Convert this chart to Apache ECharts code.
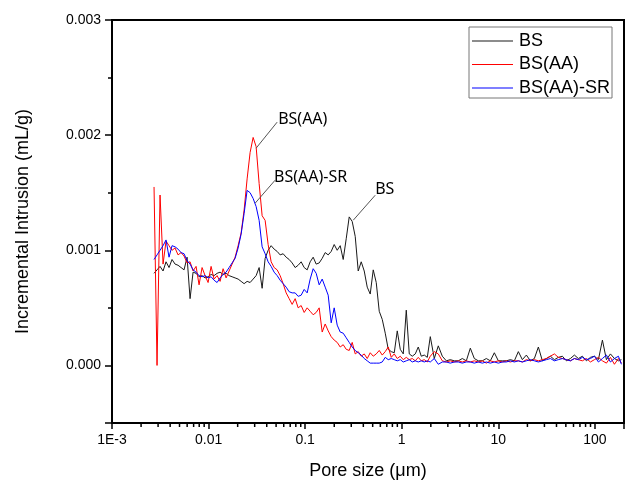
<!DOCTYPE html>
<html><head><meta charset="utf-8">
<script src="https://cdn.jsdelivr.net/npm/echarts@6/dist/echarts.min.js"></script>
<style>html,body{margin:0;padding:0;background:#fff}#c{width:628px;height:485px}</style>
</head><body><div id="c"></div>
<script>
// Pore size (µm)
const poreSize = [
0.002724,0.002926,0.003143,0.003377,0.003627,0.003896,0.004185,0.004496,0.004830,0.005188,
0.005573,0.005987,0.006431,0.006908,0.007421,0.007972,0.008563,0.009199,0.009881,0.010615,
0.011402,0.012248,0.013157,0.014134,0.015183,0.016309,0.017520,0.018820,0.020216,0.021717,
0.023328,0.025059,0.026919,0.028917,0.031063,0.033368,0.035844,0.038504,0.041362,0.044431,
0.047729,0.051270,0.055075,0.059162,0.063553,0.068269,0.073336,0.078778,0.084624,0.090905,
0.097651,0.10490,0.11268,0.12104,0.13003,0.13967,0.15004,0.16118,0.17314,0.18598,
0.19979,0.21461,0.23054,0.24765,0.26603,0.28577,0.30698,0.32976,0.35423,0.38052,
0.40876,0.43909,0.47168,0.50668,0.54428,0.58467,0.62806,0.67467,0.72474,0.77852,
0.83630,0.89836,0.96503,1.0366,1.1136,1.1962,1.2850,1.3803,1.4828,1.5928,
1.7110,1.8380,1.9744,
2.1721,2.3896,2.6289,2.8921,3.1817,3.5003,3.8508,4.2364,4.6606,5.1273,
5.6407,6.2055,6.8269,7.5105,8.2626,9.0900,10.000,11.001,12.103,13.315,
14.648,16.115,17.728,19.503,21.456,23.605,25.969,28.569,31.430,34.577,
38.040,41.849,46.039,50.649,55.721,61.301,67.439,74.192,81.621,89.794,
98.786,108.68,119.56,131.53,144.70,159.19,175.13,188.0];

// Incremental intrusion (mL/g)
const bs = [
0.00080,0.00083,0.00086,0.00082,0.00090,0.00085,0.00092,0.00088,0.00087,0.00085,
0.00083,0.00094,0.00058,0.00081,0.00080,0.00077,0.00078,0.00076,0.00077,0.00079,
0.00078,0.00080,0.00081,0.00079,0.00080,0.00078,0.00077,0.00076,0.00075,0.00073,
0.00071,0.00073,0.00072,0.00075,0.00078,0.00085,0.00067,0.00093,0.00100,0.00104,
0.00101,0.00099,0.00096,0.00097,0.00094,0.00092,0.00089,0.00085,0.00087,0.00090,
0.00085,0.00083,0.00090,0.00094,0.00088,0.00089,0.00093,0.00098,0.00096,0.00099,
0.00105,0.00100,0.00104,0.00092,0.00110,0.00129,0.00125,0.00112,0.00082,0.00090,
0.00082,0.00068,0.00062,0.00083,0.00072,0.00047,0.00040,0.00028,0.00014,0.00012,
0.00011,0.00030,0.00014,0.00010,0.00048,0.00010,0.00008,0.00010,0.00016,0.00008,
0.00009,0.00007,0.00025,
0.00006,0.00017,0.00008,0.00004,0.00005,0.00004,0.00004,0.00006,0.00004,0.00015,
0.00006,0.00004,0.00004,0.00006,0.00004,0.00011,0.00004,0.00004,0.00004,0.00005,
0.00004,0.00012,0.00005,0.00009,0.00004,0.00006,0.00016,0.00004,0.00006,0.00008,
0.00005,0.00007,0.00008,0.00004,0.00006,0.00009,0.00006,0.00008,0.00004,0.00007,
0.00008,0.00005,0.00022,0.00005,0.00010,0.00006,0.00004,0.00005];

const bsAA = [
0.00155,0.00000,0.00148,0.00088,0.00108,0.00104,0.00100,0.00102,0.00096,0.00098,
0.00095,0.00089,0.00090,0.00082,0.00086,0.00070,0.00085,0.00078,0.00072,0.00086,
0.00075,0.00078,0.00073,0.00084,0.00076,0.00082,0.00088,0.00094,0.00104,0.00115,
0.00135,0.00162,0.00185,0.00198,0.00190,0.00158,0.00130,0.00126,0.00105,0.00090,
0.00085,0.00083,0.00078,0.00071,0.00063,0.00058,0.00053,0.00058,0.00050,0.00052,
0.00046,0.00050,0.00047,0.00044,0.00046,0.00050,0.00029,0.00036,0.00030,0.00025,
0.00022,0.00020,0.00016,0.00018,0.00014,0.00013,0.00020,0.00010,0.00012,0.00008,
0.00010,0.00006,0.00011,0.00008,0.00010,0.00013,0.00009,0.00012,0.00016,0.00007,
0.00010,0.00006,0.00008,0.00005,0.00007,0.00005,0.00006,0.00004,0.00007,0.00004,
0.00005,0.00003,0.00008,
0.00012,0.00010,0.00004,0.00003,0.00004,0.00003,0.00004,0.00003,0.00004,0.00003,
0.00004,0.00003,0.00004,0.00002,0.00004,0.00003,0.00004,0.00003,0.00004,0.00003,
0.00004,0.00004,0.00003,0.00005,0.00004,0.00005,0.00004,0.00005,0.00006,0.00008,
0.00010,0.00007,0.00006,0.00005,0.00004,0.00006,0.00005,0.00004,0.00006,0.00003,
0.00005,0.00007,0.00004,0.00002,0.00007,0.00001,0.00006,0.00002];

const bsAASR = [
0.00092,0.00096,0.00100,0.00104,0.00109,0.00094,0.00104,0.00103,0.00101,0.00098,
0.00097,0.00091,0.00088,0.00083,0.00081,0.00078,0.00077,0.00078,0.00076,0.00077,
0.00074,0.00072,0.00076,0.00079,0.00081,0.00085,0.00089,0.00093,0.00102,0.00114,
0.00132,0.00152,0.00150,0.00145,0.00138,0.00126,0.00103,0.00097,0.00090,0.00086,
0.00081,0.00078,0.00074,0.00071,0.00068,0.00064,0.00063,0.00063,0.00060,0.00061,
0.00066,0.00063,0.00075,0.00084,0.00080,0.00070,0.00075,0.00068,0.00061,0.00037,
0.00050,0.00035,0.00029,0.00028,0.00024,0.00020,0.00016,0.00013,0.00011,0.00009,
0.00006,0.00004,0.00002,0.00002,0.00002,0.00002,0.00003,0.00007,0.00005,0.00006,
0.00005,0.00004,0.00005,0.00003,0.00004,0.00005,0.00003,0.00004,0.00003,0.00004,
0.00003,0.00004,0.00003,
0.00006,0.00001,0.00003,0.00003,0.00002,0.00003,0.00003,0.00002,0.00003,0.00003,
0.00002,0.00003,0.00002,0.00003,0.00002,0.00003,0.00002,0.00003,0.00003,0.00004,
0.00003,0.00004,0.00003,0.00004,0.00005,0.00004,0.00003,0.00004,0.00005,0.00006,
0.00004,0.00005,0.00006,0.00005,0.00004,0.00006,0.00005,0.00007,0.00005,0.00006,
0.00008,0.00003,0.00006,0.00009,0.00003,0.00006,0.00008,0.00001];

const seriesNames = ['BS', 'BS(AA)', 'BS(AA)-SR'];
const seriesColors = ['#1a1a1a', '#ff0000', '#0000ff'];
const xTickLabels = {'-3': '1E-3', '-2': '0.01', '-1': '0.1', '0': '1', '1': '10', '2': '100'};
const minorTickValues = [
0.002,0.003,0.004,0.005,0.006,0.007,0.008,0.009,
0.02,0.03,0.04,0.05,0.06,0.07,0.08,0.09,
0.2,0.3,0.4,0.5,0.6,0.7,0.8,0.9,
2,3,4,5,6,7,8,9,
20,30,40,50,60,70,80,90];
const annotations = [
  {text: 'BS(AA)', from: [0.03107, 0.001887], to: [0.05127, 0.002113], label: [0.0525, 0.002139]},
  {text: 'BS(AA)-SR', from: [0.03033, 0.001409], to: [0.04887, 0.001609], label: [0.0477, 0.001635]},
  {text: 'BS', from: [0.3144, 0.001261], to: [0.531, 0.001478], label: [0.531, 0.00153]}
];
const X_MIN = 0.001, X_MAX = 200, Y_MIN = -0.0005, Y_MAX = 0.003;

const FONT = '"Liberation Sans", Arial, sans-serif';
const chart = echarts.init(document.getElementById('c'), null, {renderer: 'canvas'});
const toPairs = ys => poreSize.map((x, i) => [x, ys[i]]);
const lineSeries = [bs, bsAA, bsAASR].map((ys, i) => ({
  name: seriesNames[i], type: 'line', data: toPairs(ys), showSymbol: false, symbol: 'none',
  lineStyle: {width: 1, color: seriesColors[i]}, itemStyle: {color: seriesColors[i]},
  z: 2 + i, animation: false
}));

chart.setOption({
  animation: false,
  backgroundColor: '#fff',
  grid: {left: 112, right: 4, top: 20, bottom: 62, show: true, borderColor: '#000', borderWidth: 2, backgroundColor: 'transparent'},
  legend: {
    data: seriesNames, orient: 'vertical', left: 469, top: 27,
    backgroundColor: '#fff', borderColor: '#777', borderWidth: 1, borderRadius: 0,
    padding: [5, 2, 1, 3], itemGap: 5.5, itemWidth: 41, itemHeight: 1, icon: 'rect',
    textStyle: {fontFamily: FONT, fontSize: 18, color: '#000', padding: [0, 0, 0, 1]}
  },
  xAxis: {
    type: 'log', logBase: 10, min: X_MIN, max: X_MAX,
    name: 'Pore size (\u03bcm)', nameLocation: 'middle', nameGap: 39,
    nameTextStyle: {fontFamily: FONT, fontSize: 18, color: '#000'},
    axisLine: {onZero: false, lineStyle: {color: '#000', width: 2}},
    axisTick: {show: true, length: 6, lineStyle: {color: '#000', width: 1.5}},
    axisLabel: {fontFamily: FONT, fontSize: 14, color: '#000', margin: 10,
      formatter: v => { const l = Math.log10(v), r = Math.round(l); return Math.abs(l - r) < 1e-6 && xTickLabels[String(r)] ? xTickLabels[String(r)] : ''; }},
    splitLine: {show: false}, minorTick: {show: false}
  },
  yAxis: {
    type: 'value', min: Y_MIN, max: Y_MAX, splitNumber: 4,
    name: 'Incremental Intrusion (mL/g)', nameLocation: 'middle', nameGap: 80, nameRotate: 90,
    nameTextStyle: {fontFamily: FONT, fontSize: 18, color: '#000'},
    axisLine: {show: true, onZero: false, lineStyle: {color: '#000', width: 2}},
    axisTick: {show: true, length: 7, lineStyle: {color: '#000', width: 1.5}},
    minorTick: {show: true, splitNumber: 2, length: 4, lineStyle: {color: '#000', width: 1.5}},
    axisLabel: {fontFamily: FONT, fontSize: 14, color: '#000', margin: 11,
      formatter: v => v < -1e-9 ? '' : v.toFixed(3)},
    splitLine: {show: false}
  },
  series: lineSeries.concat([{
    type: 'custom', name: 'minorTicks', silent: true, clip: false, z: 10,
    data: minorTickValues.map(v => [v, Y_MIN]),
    renderItem: (params, api) => {
      const p = api.coord([api.value(0), api.value(1)]);
      return {type: 'line', shape: {x1: p[0], y1: p[1], x2: p[0], y2: p[1] + 4},
              style: {stroke: '#000', lineWidth: 1.5}};
    }
  }])
});

const g = [];
annotations.forEach(a => {
  const p1 = chart.convertToPixel({gridIndex: 0}, a.from);
  const p2 = chart.convertToPixel({gridIndex: 0}, a.to);
  const pl = chart.convertToPixel({gridIndex: 0}, a.label);
  g.push({type: 'line', shape: {x1: p1[0], y1: p1[1], x2: p2[0], y2: p2[1]}, style: {stroke: '#555', lineWidth: 1}, z: 20});
  g.push({type: 'text', x: pl[0], y: pl[1], z: 20, style: {text: a.text, font: '16px "Noto Sans", sans-serif', fill: '#000', textAlign: 'left', textVerticalAlign: 'middle', verticalAlign: 'middle'}});
});
chart.setOption({graphic: g});
</script></body></html>
